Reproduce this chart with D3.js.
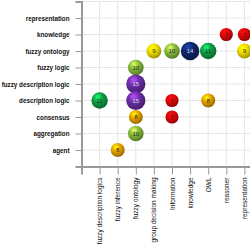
<!DOCTYPE html>
<html>
<head>
<meta charset="utf-8">
<script src="https://cdn.jsdelivr.net/npm/d3@7"></script>
<style>
  body { margin: 0; background: #fff; }
  svg { display: block; }
</style>
</head>
<body>
<svg id="chart" width="250" height="250"></svg>
<script>
const rowCats = ['representation', 'knowledge', 'fuzzy ontology', 'fuzzy logic', 'fuzzy description logic',
    'description logic', 'consensus', 'aggregation', 'agent'];
const colCats = ['fuzzy description logics', 'fuzzy inference', 'fuzzy ontology', 'group decision making',
    'Information', 'knowledge', 'OWL', 'reasoner', 'representation'];

// each bubble: column, row, count
const bubbleCols = ['reasoner', 'representation',
    'group decision making', 'Information', 'knowledge', 'OWL', 'representation',
    'fuzzy ontology', 'fuzzy ontology',
    'fuzzy description logics', 'fuzzy ontology', 'Information', 'OWL',
    'fuzzy ontology', 'Information', 'fuzzy ontology', 'fuzzy inference'];
const bubbleRows = ['knowledge', 'knowledge',
    'fuzzy ontology', 'fuzzy ontology', 'fuzzy ontology', 'fuzzy ontology', 'fuzzy ontology',
    'fuzzy logic', 'fuzzy description logic',
    'description logic', 'description logic', 'description logic', 'description logic',
    'consensus', 'consensus', 'aggregation', 'agent'];
const bubbleValues = [7, 7, 9, 10, 14, 11, 9, 10, 15, 11, 15, 7, 8, 8, 7, 10, 8];

const colorValues = [7, 8, 9, 10, 11, 14, 15];
const colorList = ['#e00808', '#e8a400', '#f2e000', '#86bd3c', '#0e9e44', '#10286a', '#6a2ea6'];

const svg = d3.select('#chart');
const plotLeft = 81.5, plotRight = 262.5, plotTop = 1.5, plotBottom = 166.5;

const x = d3.scalePoint().domain(colCats).range([plotLeft, plotRight]).padding(1);
const y = d3.scalePoint().domain(rowCats).range([plotTop, plotBottom]).padding(1);
const r = d3.scaleSqrt().domain([0, 15]).range([0, 9.6]);
const color = d3.scaleOrdinal().domain(colorValues).range(colorList);

// gradients
const defs = svg.append('defs');
colorValues.forEach(v => {
    const c = d3.color(color(v));
    const g = defs.append('radialGradient')
        .attr('id', 'g' + v)
        .attr('cx', '40%').attr('cy', '35%').attr('r', '65%')
        .attr('fx', '38%').attr('fy', '28%');
    g.append('stop').attr('offset', '0%').attr('stop-color', c.brighter(1.6));
    g.append('stop').attr('offset', '45%').attr('stop-color', c);
    g.append('stop').attr('offset', '100%').attr('stop-color', c.darker(1.2));
});

// grid
const grid = svg.append('g');
grid.selectAll('.hg').data(rowCats.concat(['__top'])).join('line')
    .attr('x1', plotLeft).attr('x2', 250)
    .attr('y1', d => d === '__top' ? plotTop : y(d))
    .attr('y2', d => d === '__top' ? plotTop : y(d))
    .attr('stroke', '#e6e6e6').attr('stroke-width', 1);
grid.selectAll('.vg').data(colCats).join('line')
    .attr('y1', plotTop).attr('y2', plotBottom)
    .attr('x1', d => x(d)).attr('x2', d => x(d))
    .attr('stroke', '#e6e6e6').attr('stroke-width', 1);

// axes
const yAxis = svg.append('g')
    .attr('transform', `translate(${plotLeft},0)`)
    .call(d3.axisLeft(y).tickSize(6).tickPadding(6));
yAxis.selectAll('text')
    .style('font-family', 'Liberation Sans, Arial, sans-serif')
    .style('font-size', '6.3px')
    .style('font-weight', 'bold')
    .attr('fill', '#111');

const xAxis = svg.append('g')
    .attr('transform', `translate(0,${plotBottom})`)
    .call(d3.axisBottom(x).tickSize(8).tickPadding(2));
xAxis.selectAll('text')
    .attr('transform', 'rotate(-90)')
    .attr('x', -11).attr('y', 0).attr('dy', '0.32em')
    .style('text-anchor', 'end')
    .style('font-family', 'Liberation Sans, Arial, sans-serif')
    .style('font-size', '6.5px')
    .attr('fill', '#111');

svg.selectAll('.domain').attr('stroke', '#999').attr('stroke-width', 2);
svg.selectAll('.tick line').attr('stroke', '#999');

// bubbles
const bubbles = bubbleValues.map((v, i) => ({ col: bubbleCols[i], row: bubbleRows[i], value: v }));
const bg = svg.append('g');
bg.selectAll('circle').data(bubbles).join('circle')
    .attr('cx', d => x(d.col))
    .attr('cy', d => y(d.row))
    .attr('r', d => r(d.value))
    .attr('fill', d => `url(#g${d.value})`);
bg.selectAll('text').data(bubbles).join('text')
    .attr('x', d => x(d.col))
    .attr('y', d => y(d.row))
    .attr('dy', '0.35em')
    .attr('text-anchor', 'middle')
    .style('font-family', 'Liberation Sans, Arial, sans-serif')
    .style('font-size', '6px')
    .attr('fill', d => d.value >= 14 ? '#ddd' : '#222')
    .text(d => d.value);
</script>
</body>
</html>
